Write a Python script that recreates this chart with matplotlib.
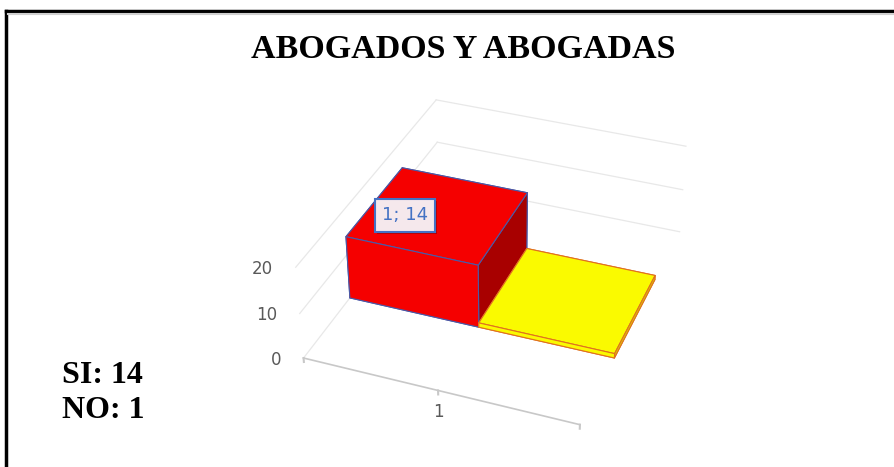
import matplotlib
matplotlib.use("Agg")
import matplotlib.pyplot as plt
from matplotlib.lines import Line2D
from matplotlib import patheffects

# Datos de la encuesta
categorias = ["1"]
series = ["SI", "NO"]
valores = [14, 1]
colores_cara = {
    "SI": ("#f50000", "#a80000"),
    "NO": ("#fafa00", "#d8d800"),
}
colores_borde = {"SI": "#4a5aa8", "NO": "#e07020"}
ticks_z = [0, 10, 20]

W, H = 894, 467
fig = plt.figure(figsize=(W / 100, H / 100), dpi=100)

S = 467
ax = fig.add_axes([262 / W, -21 / H, S / W, S / H], projection="3d")
ax.set_proj_type("persp", focal_length=0.65)
ax.view_init(elev=34.2, azim=-69.4)
ax.set_box_aspect((305, 370, 116), zoom=0.942)
ax.set_axis_off()
ax.set_xticks([])
ax.set_yticks([])
ax.set_zticks([])
for eje in (ax.xaxis, ax.yaxis, ax.zaxis):
    eje.label.set_visible(False)
    eje.offsetText.set_visible(False)
ax.set_xlim(0.5, 1.5)
ax.set_ylim(0, 1)
ax.set_zlim(0, 20)

# paredes: lineas de division en la pared izquierda y en la del fondo
for z in ticks_z:
    ax.plot([0.5, 0.5], [0, 1], [z, z], color="#e8e8e8", lw=0.9)
    ax.plot([0.5, 1.5], [1, 1], [z, z], color="#e8e8e8", lw=0.9)
    ax.text(0.435, -0.03, z, str(z), ha="right", va="center", color="#595959", fontsize=12)

# eje de categorias con sus marcas
ax.plot([0.5, 1.5], [0, 0], [0, 0], color="#c8c8c8", lw=1.2)
for xt in [0.5, 1.0, 1.5]:
    ax.plot([xt, xt], [0, 0], [0, -0.9], color="#c8c8c8", lw=1.5)
ax.text(1.0, 0, -5, categorias[0], ha="center", va="center", color="#595959", fontsize=12)

# barras 3D (una por serie, lado a lado, ocupando toda la categoria)
ancho = 0.5
y0, prof = 0.31, 0.41
for i, (s, v) in enumerate(zip(series, valores)):
    claro, oscuro = colores_cara[s]
    # orden de caras en bar3d: abajo, arriba, -y, +y, -x, +x
    caras = [claro, claro, claro, claro, oscuro, oscuro]
    ax.bar3d(0.5 + i * ancho, y0, 0, ancho, prof, v, color=caras, shade=False,
             edgecolor=colores_borde[s], linewidth=0.8)

etiqueta = ax.text(0.5 + ancho * 0.28, y0 + prof * 0.4, valores[0], f"1; {valores[0]}",
                   ha="center", va="center", color="#4472c4", fontsize=13,
                   bbox=dict(boxstyle="square,pad=0.4", fc="#f5e8ec", ec="#4472c4", lw=1.5))
etiqueta.get_bbox_patch().set_path_effects([
    patheffects.withSimplePatchShadow(offset=(1.5, -1.5), shadow_rgbFace="#700000", alpha=0.45)
])

fig.text(0.518, 1 - 58 / H, "ABOGADOS Y ABOGADAS", ha="center", va="baseline",
         family="Liberation Serif", weight="bold", fontsize=24.5)
fig.text(62 / W, 1 - 383 / H, f"SI: {valores[0]}", ha="left", va="baseline",
         family="Liberation Serif", weight="bold", fontsize=23)
fig.text(62 / W, 1 - 418 / H, f"NO: {valores[1]}", ha="left", va="baseline",
         family="Liberation Serif", weight="bold", fontsize=23)

# marco del grafico
fig.add_artist(Line2D([6 / W, 6 / W], [0, 1 - 11 / H], color="black", lw=2.5))
fig.add_artist(Line2D([6 / W, 1], [1 - 11 / H, 1 - 11 / H], color="black", lw=2.5))
fig.add_artist(Line2D([8 / W, 1], [1 - 14 / H, 1 - 14 / H], color="#d0d0d0", lw=1.5))

fig.savefig("out.png", dpi=100)
